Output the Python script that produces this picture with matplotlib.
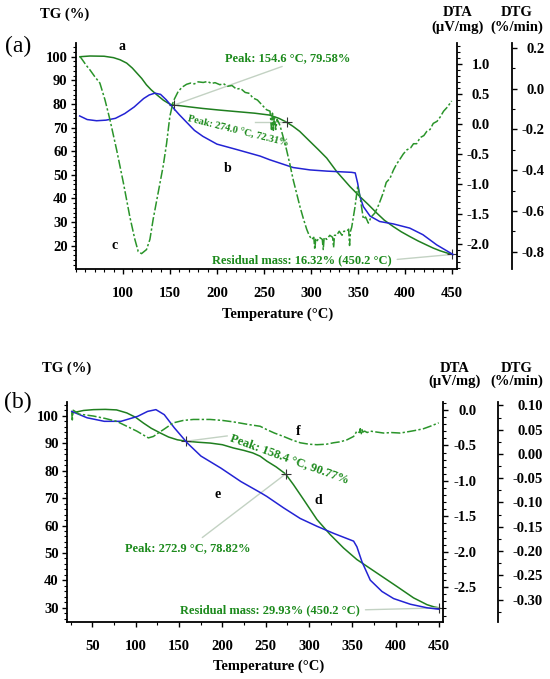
import matplotlib
matplotlib.use('Agg')
import matplotlib.pyplot as plt
from matplotlib.ticker import MultipleLocator, FixedLocator, FormatStrFormatter

plt.rcParams['font.family'] = ['Liberation Serif', 'DejaVu Serif']
plt.rcParams['axes.unicode_minus'] = True

# ---------------- panel (a) ----------------
# TG curve "a" (%)
temp_a_tg = [54.3, 65, 80, 90, 97, 104, 110, 115, 120, 125, 130, 136, 143, 150, 154.6,
             170, 185, 203, 220, 240, 256, 266, 274.0, 281, 288, 299, 308, 316.7, 327.3,
             341.5, 352, 361, 370, 378, 387.5, 396, 405, 414, 423, 430, 437, 444, 450.2]
tg_a = [100.0, 100.3, 100.2, 99.6, 98.7, 97.3, 95.2, 93.0, 90.8, 88.1, 86.0, 83.9, 81.6, 79.9, 79.58,
        78.8, 78.1, 77.4, 76.8, 76.1, 75.3, 73.9, 72.31, 70.5, 68.4, 64.1, 60.6, 57.1, 51.4,
        45.0, 40.8, 37.4, 33.8, 30.8, 28.1, 25.9, 23.9, 22.0, 20.3, 19.0, 17.9, 17.0, 16.32]

# DTA curve "b" (uV/mg)
temp_a_dta = [54, 62, 72, 82, 92, 102, 112, 122, 128, 134, 140, 146, 152, 160, 168, 176, 185,
              200, 221, 246, 256, 281, 299, 317, 330, 343, 347, 349.6, 352, 355.6, 362.8, 373,
              387.5, 405, 419, 433.7, 451]
dta_a = [0.13, 0.07, 0.05, 0.06, 0.09, 0.17, 0.28, 0.42, 0.48, 0.51, 0.49, 0.40, 0.29, 0.15, 0.02,
         -0.11, -0.21, -0.34, -0.43, -0.54, -0.60, -0.73, -0.77, -0.79, -0.80, -0.81, -0.82, -0.99,
         -1.21, -1.38, -1.54, -1.63, -1.67, -1.74, -1.85, -2.02, -2.18]

# DTG curve "c" (%/min), noisy trace read point by point
temp_a_dtg = [54.3, 58, 61, 64.9, 70, 75.5, 80.9, 86.2, 93.3, 100.4, 107.4, 112.7, 116.3, 119.8,
              125.1, 128.7, 132.2, 137.5, 142.8, 146.4, 149.9, 153.5, 158.8, 163, 167.7, 172, 176,
              180, 185.4, 190, 194, 198, 203.1, 207, 211, 216, 220.8, 225, 230, 234, 238.5, 243,
              248, 252.7, 256.4, 258, 259, 260, 261, 262.5, 264, 267, 270, 274, 277.5, 281.2,
              284.5, 288.3, 292, 295.4, 298, 300.7, 303, 304, 305, 306, 309, 312, 313, 314, 316.7,
              320, 323, 324, 325, 327.3, 330, 333, 335, 338, 340, 341, 342, 343.3, 346.8, 349.6,
              352.1, 355.7, 358, 361, 364, 368, 372, 376.9, 380, 384, 387.6, 391, 394, 398.2, 402,
              406, 409, 412.4, 416, 420, 423, 426.6, 430, 434, 437.2, 441, 445, 449.6]
dtg_a = [0.159, 0.135, 0.115, 0.093, 0.06, 0.028, -0.054, -0.152, -0.30, -0.46, -0.63, -0.74, -0.80,
         -0.81, -0.79, -0.74, -0.64, -0.51, -0.38, -0.27, -0.136, -0.062, -0.013, 0.008, 0.022,
         0.028, 0.024, 0.034, 0.031, 0.036, 0.026, 0.03, 0.02, 0.025, 0.012, 0.016, -0.002, 0.002,
         -0.018, -0.022, -0.046, -0.055, -0.08, -0.103, -0.11, -0.20, -0.12, -0.21, -0.13, -0.20,
         -0.15, -0.18, -0.23, -0.30, -0.37, -0.45, -0.51, -0.58, -0.64, -0.69, -0.72, -0.74, -0.73,
         -0.79, -0.74, -0.75, -0.73, -0.74, -0.79, -0.73, -0.74, -0.72, -0.73, -0.78, -0.72, -0.72,
         -0.70, -0.72, -0.70, -0.70, -0.69, -0.77, -0.70, -0.68, -0.58, -0.48, -0.53, -0.64, -0.63,
         -0.66, -0.63, -0.61, -0.57, -0.51, -0.46, -0.44, -0.40, -0.37, -0.35, -0.32, -0.30, -0.29,
         -0.27, -0.27, -0.24, -0.23, -0.21, -0.20, -0.17, -0.16, -0.14, -0.11, -0.09, -0.06]

peaks_a_t = [154.6, 274.0, 450.2]
peaks_a_tg = [79.58, 72.31, 16.32]
xticks_a = [100, 150, 200, 250, 300, 350, 400, 450]

# ---------------- panel (b) ----------------
temp_b_tg = [26.4, 40, 51.4, 65, 78, 89.8, 100, 109, 118, 128.3, 138, 148, 158.4, 172, 186, 200,
             212.8, 225, 235, 243.6, 251.3, 262, 272.9, 282, 293.6, 309, 324.3, 339.7, 355, 378,
             401, 420.4, 436, 444, 450.2]
tg_b = [101.1, 102.0, 102.3, 102.4, 102.2, 101.1, 99.5, 97.4, 95.5, 93.8, 92.3, 91.3, 90.77, 90.4,
        90.1, 89.5, 88.3, 87.4, 86.5, 85.3, 83.5, 81.4, 78.82, 74.9, 69.5, 62.2, 56.7, 51.8, 47.6,
        42.7, 37.8, 33.6, 31.1, 30.3, 29.93]

temp_b_dta = [26.4, 44, 63.9, 83.1, 102.3, 113.8, 123.4, 133, 144.5, 159.9, 175.3, 198.3, 221.4,
              244.5, 251.3, 270.5, 289.7, 309, 328.2, 351.3, 355.1, 360.9, 370.5, 384, 397.4,
              416.7, 435.9, 449.4]
dta_b = [-0.02, -0.11, -0.16, -0.16, -0.09, -0.02, 0.005, -0.066, -0.25, -0.47, -0.65, -0.82, -1.01,
         -1.17, -1.22, -1.38, -1.53, -1.64, -1.74, -1.85, -1.93, -2.14, -2.40, -2.56, -2.66, -2.74,
         -2.79, -2.81]

temp_b_dtg = [26.4, 27, 28, 35, 51.4, 65, 78.3, 89.8, 101.3, 108, 114.7, 120.5, 126, 132, 143.5,
              155, 166.6, 185.8, 200, 212.7, 232, 243.5, 251.3, 260, 270.5, 280, 289.7, 300, 309,
              320, 328.2, 336, 343.6, 351.3, 355.1, 358, 359, 360, 361, 362, 364, 367, 370.5, 378,
              385.9, 395, 405, 415, 424.3, 432, 439.7, 449.4]
dtg_b = [0.084, 0.070, 0.09, 0.082, 0.078, 0.073, 0.067, 0.057, 0.047, 0.040, 0.033, 0.036, 0.043,
         0.050, 0.064, 0.069, 0.071, 0.071, 0.069, 0.066, 0.060, 0.057, 0.050, 0.043, 0.036, 0.029,
         0.023, 0.020, 0.019, 0.020, 0.023, 0.025, 0.029, 0.036, 0.047, 0.044, 0.052, 0.040, 0.050,
         0.045, 0.047, 0.044, 0.047, 0.045, 0.043, 0.044, 0.043, 0.046, 0.049, 0.052, 0.057, 0.064]

peaks_b_t = [158.4, 272.9, 450.2]
peaks_b_tg = [90.77, 78.82, 29.93]
xticks_b = [50, 100, 150, 200, 250, 300, 350, 400, 450]

TG_GREEN = '#1f7f1f'
DTG_GREEN = '#2a942a'
DTA_BLUE = '#2323d4'
TXT_GREEN = '#1c8a1c'
LINK = '#c3d2c3'
TICK_FONT = dict(family=['Liberation Serif', 'DejaVu Serif'], size=10.5, weight='bold')


def make_panel(fig, rect, xlim, tglim, dtalim, dtglim, dtg_pos,
               xticks, xminor, dtg_major, dtg_minor, dtg_fmt, dta_pad, dtg_pad):
    ax = fig.add_axes(rect)
    ax_dta = ax.twinx()
    ax_dtg = ax.twinx()

    ax.set_xlim(*xlim)
    ax.set_ylim(*tglim)
    ax_dta.set_ylim(*dtalim)
    ax_dtg.set_ylim(*dtglim)

    for a in (ax, ax_dta, ax_dtg):
        for s in a.spines.values():
            s.set_visible(False)
            s.set_linewidth(1.3)
    ax.spines['left'].set_visible(True)
    ax.spines['bottom'].set_visible(True)
    ax_dta.spines['right'].set_visible(True)
    ax_dtg.spines['right'].set_visible(True)
    ax_dtg.spines['right'].set_position(('axes', dtg_pos))

    ax.xaxis.set_major_locator(FixedLocator(xticks))
    ax.xaxis.set_minor_locator(MultipleLocator(xminor))
    ax.yaxis.set_major_locator(MultipleLocator(10))
    ax.yaxis.set_minor_locator(MultipleLocator(2))
    ax_dta.yaxis.set_major_locator(MultipleLocator(0.5))
    ax_dta.yaxis.set_minor_locator(MultipleLocator(0.1))
    ax_dta.yaxis.set_major_formatter(FormatStrFormatter('%.1f'))
    ax_dtg.yaxis.set_major_locator(MultipleLocator(dtg_major))
    ax_dtg.yaxis.set_minor_locator(MultipleLocator(dtg_minor))
    ax_dtg.yaxis.set_major_formatter(FormatStrFormatter(dtg_fmt))

    ax.tick_params(axis='x', which='major', length=3.5, width=1, pad=9.5)
    ax.tick_params(axis='x', which='minor', length=2, width=0.8)
    ax.tick_params(axis='y', which='major', length=3.5, width=1, pad=2.5)
    ax.tick_params(axis='y', which='minor', length=2, width=0.8)
    ax_dta.tick_params(axis='y', which='major', length=3.5, width=1, pad=dta_pad)
    ax_dta.tick_params(axis='y', which='minor', length=2, width=0.8)
    ax_dtg.tick_params(axis='y', which='major', length=3.5, width=1, pad=dtg_pad)
    ax_dtg.tick_params(axis='y', which='minor', length=2, width=0.8)

    for lab in ax.get_xticklabels() + ax.get_yticklabels():
        lab.set(**TICK_FONT)
    for a in (ax_dta, ax_dtg):
        for tk in a.yaxis.get_major_ticks():
            tk.label2.set(horizontalalignment='right', **TICK_FONT)
    return ax, ax_dta, ax_dtg


fig = plt.figure(figsize=(5.5, 6.79), dpi=100)

# ---- (a)
ax, ax_dta, ax_dtg = make_panel(fig, [0.138, 0.604, 0.693, 0.333], (50, 455.3), (10.2, 105.9),
                                (-2.42, 1.35), (-0.885, 0.226), 1.144, xticks_a, 10, 0.2, 0.1,
                                '%.1f', 20, 20)
ax.plot(temp_a_tg, tg_a, color=TG_GREEN, lw=1.1)
ax_dta.plot(temp_a_dta, dta_a, color=DTA_BLUE, lw=1.1)
ax_dtg.plot(temp_a_dtg, dtg_a, color=DTG_GREEN, lw=1.1, ls=(0, (6, 1.5, 1.5, 1.5)))
ax.plot(peaks_a_t, peaks_a_tg, ls='none', marker='+', ms=7, mew=0.8, color='#333333', zorder=5)

ax.annotate('Peak: 154.6 °C, 79.58%', xy=(peaks_a_t[0], peaks_a_tg[0]), xytext=(275, 99.6),
            ha='center', va='center', color=TXT_GREEN, fontsize=9, fontweight='bold',
            arrowprops=dict(arrowstyle='-', color=LINK, lw=1, relpos=(0.52, 0),
                            shrinkA=0, shrinkB=0))
ax.plot([240, peaks_a_t[1]], [peaks_a_tg[1], peaks_a_tg[1]], color=LINK, lw=1)
ax.text(169, 73.7, 'Peak: 274.0 °C, 72.31%', rotation=-14, rotation_mode='anchor',
        ha='left', va='center', color=TXT_GREEN, fontsize=7.4, fontweight='bold')
ax.annotate('Residual mass: 16.32% (450.2 °C)', xy=(peaks_a_t[2], peaks_a_tg[2]),
            xytext=(194.7, 14.0), ha='left', va='center', color=TXT_GREEN, fontsize=9,
            fontweight='bold',
            arrowprops=dict(arrowstyle='-', color=LINK, lw=1, relpos=(1, 0.5),
                            shrinkA=2, shrinkB=0))
ax.text(99, 104.2, 'a', ha='center', va='center', fontsize=10, fontweight='bold')
ax.text(211.7, 52.5, 'b', ha='center', va='center', fontsize=10, fontweight='bold')
ax.text(91.5, 19.9, 'c', ha='center', va='center', fontsize=10, fontweight='bold')

# ---- (b)
bx, bx_dta, bx_dtg = make_panel(fig, [0.122, 0.084, 0.684, 0.324], (21, 454.7), (24.8, 105.1),
                                (-2.99, 0.113), (-0.346, 0.107), 1.146, xticks_b, 25, 0.05, 0.025,
                                '%.2f', 20.5, 28.5)
bx.plot(temp_b_tg, tg_b, color=TG_GREEN, lw=1.1)
bx_dta.plot(temp_b_dta, dta_b, color=DTA_BLUE, lw=1.1)
bx_dtg.plot(temp_b_dtg, dtg_b, color=DTG_GREEN, lw=1.1, ls=(0, (6, 1.5, 1.5, 1.5)))
bx.plot(peaks_b_t, peaks_b_tg, ls='none', marker='+', ms=7, mew=0.8, color='#333333', zorder=5)

bx.plot([peaks_b_t[0], 205.5], [peaks_b_tg[0], 92.7], color=LINK, lw=1)
bx.text(209, 92.3, 'Peak: 158.4 °C, 90.77%', rotation=-20, rotation_mode='anchor',
        ha='left', va='center', color=TXT_GREEN, fontsize=9, fontweight='bold')
bx.annotate('Peak: 272.9 °C, 78.82%', xy=(peaks_b_t[1], peaks_b_tg[1]), xytext=(160, 51.8),
            ha='center', va='center', color=TXT_GREEN, fontsize=9, fontweight='bold',
            arrowprops=dict(arrowstyle='-', color=LINK, lw=1, relpos=(0.57, 1),
                            shrinkA=2, shrinkB=0))
bx.annotate('Residual mass: 29.93% (450.2 °C)', xy=(peaks_b_t[2], peaks_b_tg[2]),
            xytext=(151.3, 29.2), ha='left', va='center', color=TXT_GREEN, fontsize=9,
            fontweight='bold',
            arrowprops=dict(arrowstyle='-', color=LINK, lw=1, relpos=(1, 0.5),
                            shrinkA=2, shrinkB=0))
bx.text(310.5, 69.3, 'd', ha='center', va='center', fontsize=10, fontweight='bold')
bx.text(194, 71.2, 'e', ha='center', va='center', fontsize=10, fontweight='bold')
bx.text(287.4, 94.5, 'f', ha='center', va='center', fontsize=10, fontweight='bold')

# ---- figure-level labels
lab = dict(fontsize=10.5, fontweight='bold', ha='center', va='center')
fig.text(0.033, 0.932, '(a)', fontsize=17, ha='center', va='center')
fig.text(0.033, 0.408, '(b)', fontsize=17, ha='center', va='center')
fig.text(65 / 550, 1 - 14 / 679, 'TG (%)', **lab)
fig.text(67 / 550, 1 - 368 / 679, 'TG (%)', **lab)
fig.text(458 / 550, 1 - 20 / 679, 'DTA\n(µV/mg)', linespacing=1.05, **lab)
fig.text(517 / 550, 1 - 20 / 679, 'DTG\n(%/min)', linespacing=1.05, **lab)
fig.text(455 / 550, 1 - 375 / 679, 'DTA\n(µV/mg)', linespacing=1.05, **lab)
fig.text(517 / 550, 1 - 375 / 679, 'DTG\n(%/min)', linespacing=1.05, **lab)
fig.text(277.5 / 550, 1 - 314 / 679, 'Temperature (°C)', **lab)
fig.text(269 / 550, 1 - 666 / 679, 'Temperature (°C)', **lab)

fig.savefig('out.png', dpi=100)
